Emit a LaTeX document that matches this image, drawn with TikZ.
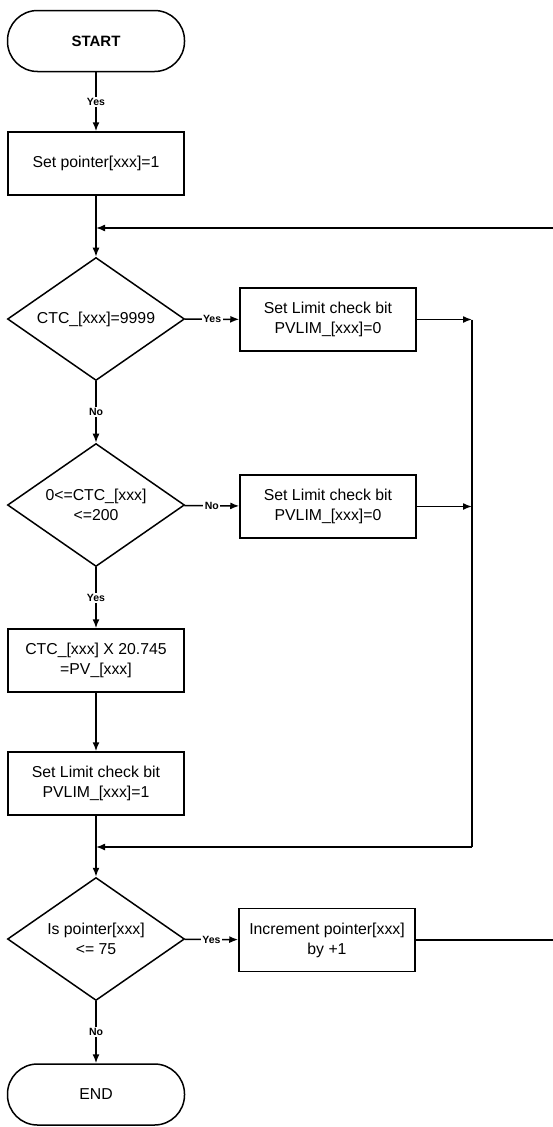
\documentclass[tikz,border=0pt]{standalone}
\usepackage{fontspec}
\setmainfont{Liberation Sans}
\usetikzlibrary{shapes.geometric,arrows.meta}
\begin{document}
\begin{tikzpicture}[x=1pt,y=-1pt,
  every node/.style={font=\fontsize{15.8}{20}\selectfont, align=center},
  term/.style={draw, line width=1.5pt, rounded corners=30pt, minimum width=177pt, minimum height=61pt, inner sep=0pt},
  proc/.style={draw, line width=1.5pt, minimum width=176pt, minimum height=63pt, inner sep=0pt},
  dec/.style={draw, line width=1.5pt, diamond, aspect=1.44, minimum width=177pt, minimum height=123pt, inner sep=0pt},
  conn/.style={line width=1.5pt},
  arr/.style={conn, -{Latex[length=9pt,width=7pt]}},
  lab/.style={fill=white, inner sep=1.5pt, font=\fontsize{10.5}{12}\selectfont\bfseries}
]
\useasboundingbox (0,0) rectangle (553,1127);
\fill[white] (0,0) rectangle (553,1127);

\node[term, font=\fontsize{15}{18}\selectfont\bfseries] (start) at (96,41) {START};
\node[proc] (setp) at (96,163.5) {Set pointer[xxx]=1};
\node[dec] (d1) at (96,319) {CTC\_[xxx]=9999};
\node[proc] (b1) at (328,319.5) {Set Limit check bit\\PVLIM\_[xxx]=0};
\node[dec] (d2) at (96,505) {0<=CTC\_[xxx]\\<=200};
\node[proc] (b2) at (328,506.5) {Set Limit check bit\\PVLIM\_[xxx]=0};
\node[proc] (b3) at (96,660.5) {CTC\_[xxx] X 20.745\\=PV\_[xxx]};
\node[proc] (b4) at (96,783.5) {Set Limit check bit\\PVLIM\_[xxx]=1};
\node[dec] (d3) at (96,939) {Is pointer[xxx]\\<= 75};
\node[proc] (b5) at (327,940) {Increment pointer[xxx]\\by +1};
\node[term] (end) at (96,1094.5) {END};

\coordinate (m1) at (96,228);
\coordinate (m2) at (96,847);
\coordinate (r1) at (472,319.5);
\coordinate (r2) at (472,506.5);
\coordinate (r3) at (472,847);
\coordinate (e1) at (565,940);
\coordinate (e2) at (565,228);

\draw[arr] (start) -- node[lab] {Yes} (setp);
\draw[conn] (setp) -- (m1);
\draw[arr] (m1) -- (d1);
\draw[arr] (d1) -- node[lab] {Yes} (b1);
\draw[arr] (b1) -- (r1);
\draw[arr] (d1) -- node[lab] {No} (d2);
\draw[arr] (d2) -- node[lab] {No} (b2);
\draw[arr] (b2) -- (r2);
\draw[conn] (r1) -- (r3);
\draw[arr] (d2) -- node[lab] {Yes} (b3);
\draw[arr] (b3) -- (b4);
\draw[conn] (b4) -- (m2);
\draw[arr] (r3) -- (m2);
\draw[arr] (m2) -- (d3);
\draw[arr] (d3) -- node[lab] {Yes} (b5);
\draw[arr] (d3) -- node[lab] {No} (end);
\draw[arr] (b5) -- (e1) -- (e2) -- (m1);
\end{tikzpicture}
\end{document}
